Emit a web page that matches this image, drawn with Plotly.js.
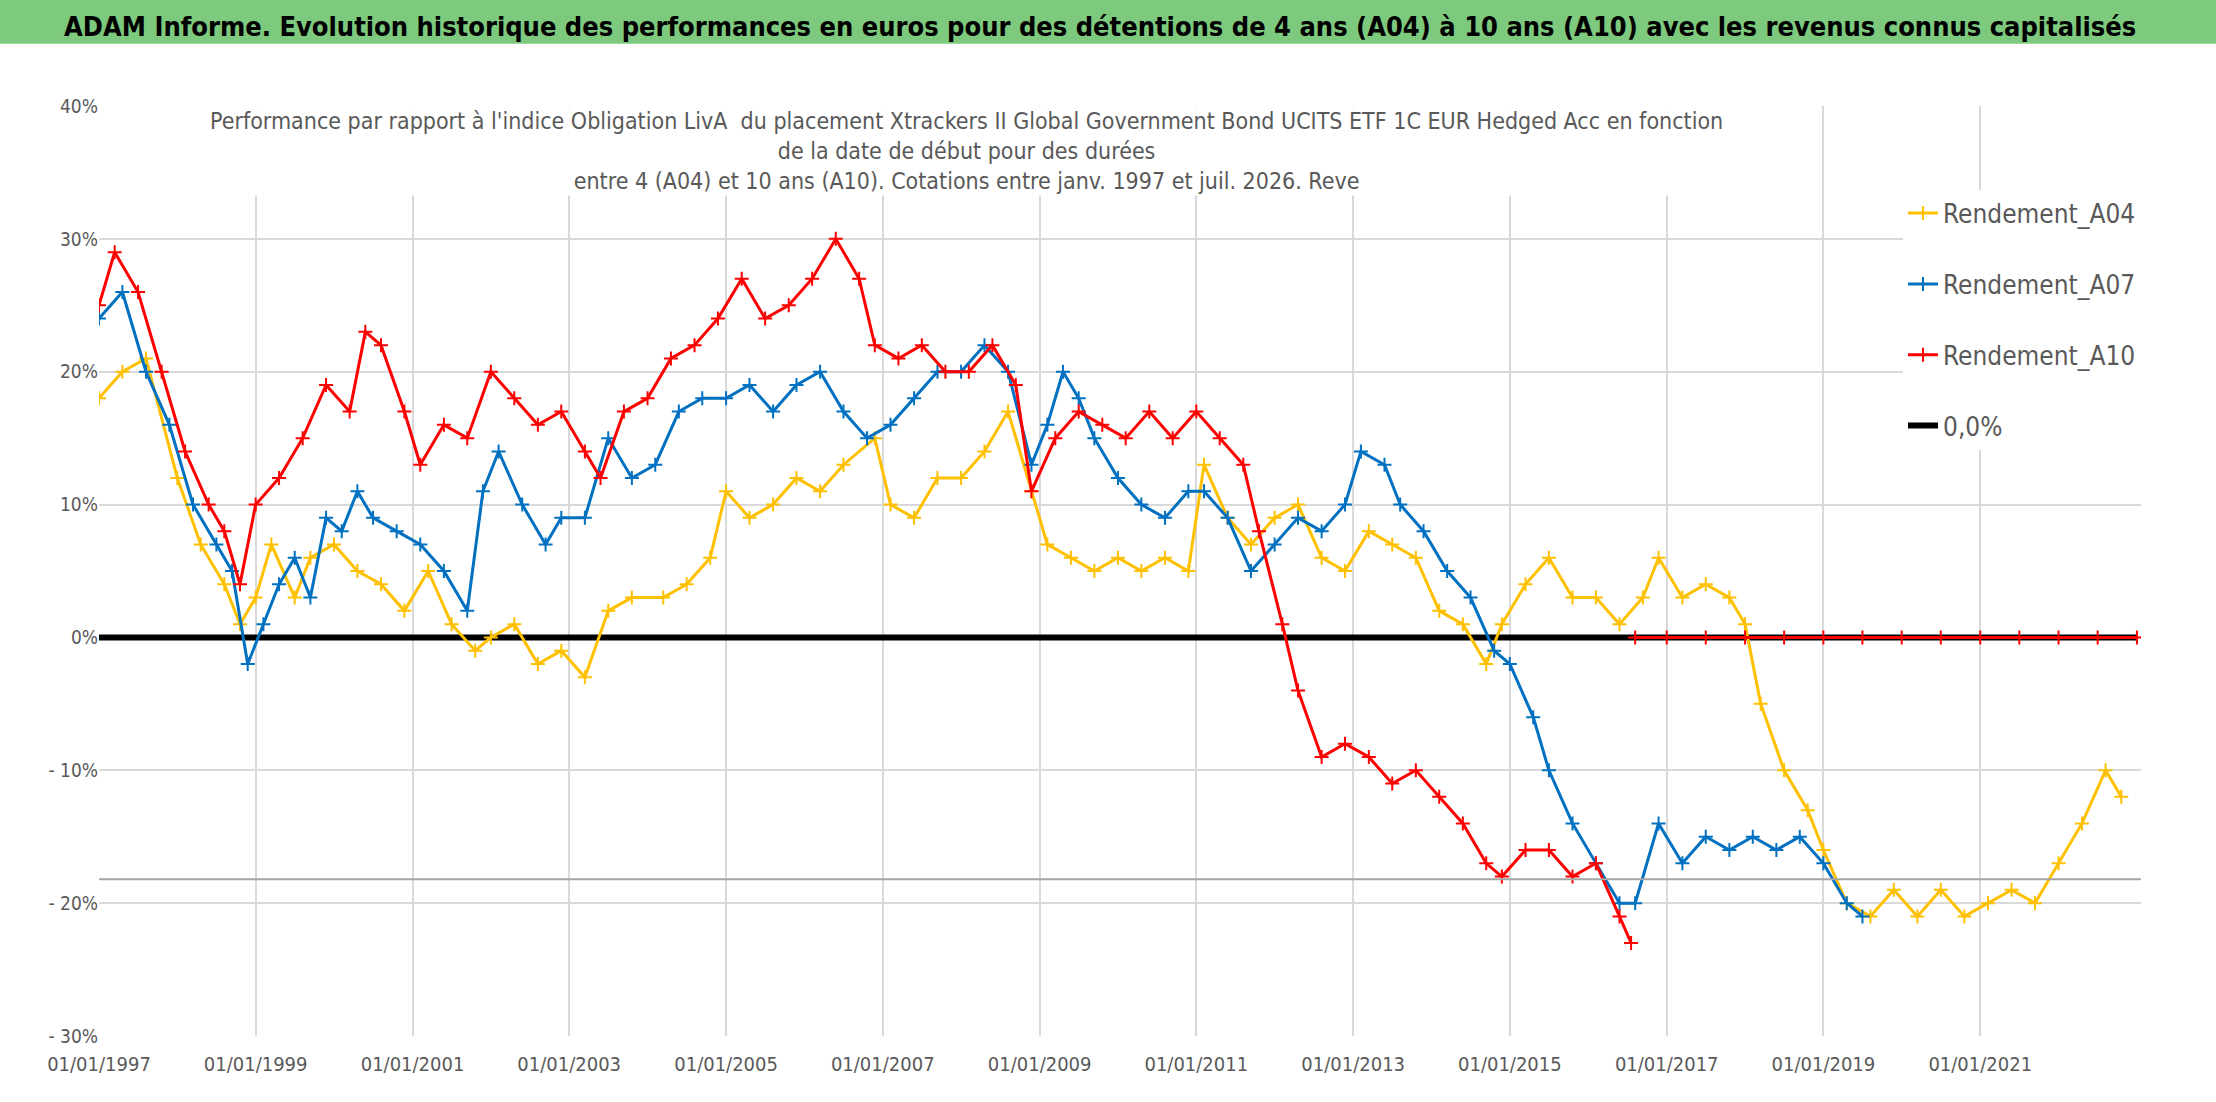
<!DOCTYPE html>
<html><head><meta charset="utf-8">
<script src="https://cdn.plot.ly/plotly-3.0.1.min.js"></script>
<style>body{margin:0;background:#fff}#chart{width:2216px;height:1102px}</style>
</head><body><div id="chart"></div>
<script>
// dates as decimal years, values in %
var a04Years = [1997.0,1997.3,1997.6,1998.0,1998.3,1998.6,1998.8,1999.0,1999.2,1999.5,1999.7,2000.0,2000.3,2000.6,2000.9,2001.2,2001.5,2001.8,2002.0,2002.3,2002.6,2002.9,2003.2,2003.5,2003.8,2004.2,2004.5,2004.8,2005.0,2005.3,2005.6,2005.9,2006.2,2006.5,2006.9,2007.1,2007.4,2007.7,2008.0,2008.3,2008.6,2008.9,2009.1,2009.4,2009.7,2010.0,2010.3,2010.6,2010.9,2011.1,2011.4,2011.7,2012.0,2012.3,2012.6,2012.9,2013.2,2013.5,2013.8,2014.1,2014.4,2014.7,2014.9,2015.2,2015.5,2015.8,2016.1,2016.4,2016.7,2016.9,2017.2,2017.5,2017.8,2018.0,2018.2,2018.5,2018.8,2019.0,2019.3,2019.6,2019.9,2020.2,2020.5,2020.8,2021.1,2021.4,2021.7,2022.0,2022.3,2022.6,2022.8];
var a04Vals = [18,20,21,12,7,4,1,3,7,3,6,7,5,4,2,5,1,-1,0,1,-2,-1,-3,2,3,3,4,6,11,9,10,12,11,13,15,10,9,12,12,14,17,11,7,6,5,6,5,6,5,13,9,7,9,10,6,5,8,7,6,2,1,-2,1,4,6,3,3,1,3,6,3,4,3,1,-5,-10,-13,-16,-20,-21,-19,-21,-19,-21,-20,-19,-20,-17,-14,-10,-12];

var a07Years = [1997.0,1997.3,1997.6,1997.9,1998.2,1998.5,1998.7,1998.9,1999.1,1999.3,1999.5,1999.7,1999.9,2000.1,2000.3,2000.5,2000.8,2001.1,2001.4,2001.7,2001.9,2002.1,2002.4,2002.7,2002.9,2003.2,2003.5,2003.8,2004.1,2004.4,2004.7,2005.0,2005.3,2005.6,2005.9,2006.2,2006.5,2006.8,2007.1,2007.4,2007.7,2008.0,2008.3,2008.6,2008.9,2009.1,2009.3,2009.5,2009.7,2010.0,2010.3,2010.6,2010.9,2011.1,2011.4,2011.7,2012.0,2012.3,2012.6,2012.9,2013.1,2013.4,2013.6,2013.9,2014.2,2014.5,2014.8,2015.0,2015.3,2015.5,2015.8,2016.1,2016.4,2016.6,2016.9,2017.2,2017.5,2017.8,2018.1,2018.4,2018.7,2019.0,2019.3,2019.5];
var a07Vals = [24,26,20,16,10,7,5,-2,1,4,6,3,9,8,11,9,8,7,5,2,11,14,10,7,9,9,15,12,13,17,18,18,19,17,19,20,17,15,16,18,20,20,22,20,13,16,20,18,15,12,10,9,11,11,9,5,7,9,8,10,14,13,10,8,5,3,-1,-2,-6,-10,-14,-17,-20,-20,-14,-17,-15,-16,-15,-16,-15,-17,-20,-21];

var a10Years = [1997.0,1997.2,1997.5,1997.8,1998.1,1998.4,1998.6,1998.8,1999.0,1999.3,1999.6,1999.9,2000.2,2000.4,2000.6,2000.9,2001.1,2001.4,2001.7,2002.0,2002.3,2002.6,2002.9,2003.2,2003.4,2003.7,2004.0,2004.3,2004.6,2004.9,2005.2,2005.5,2005.8,2006.1,2006.4,2006.7,2006.9,2007.2,2007.5,2007.8,2008.1,2008.4,2008.7,2008.9,2009.2,2009.5,2009.8,2010.1,2010.4,2010.7,2011.0,2011.3,2011.6,2011.8,2012.1,2012.3,2012.6,2012.9,2013.2,2013.5,2013.8,2014.1,2014.4,2014.7,2014.9,2015.2,2015.5,2015.8,2016.1,2016.4,2016.55];
var a10Vals = [25,29,26,20,14,10,8,4,10,12,15,19,17,23,22,17,13,16,15,20,18,16,17,14,12,17,18,21,22,24,27,24,25,27,30,27,22,21,22,20,20,22,19,11,15,17,16,15,17,15,17,15,13,8,1,-4,-9,-8,-9,-11,-10,-12,-14,-17,-18,-16,-16,-18,-17,-21,-23];
// A10 values are 0 once the 10-year window runs past the last quote
var a10TailYears = [2016.6,2017.0,2017.5,2018.0,2018.5,2019.0,2019.5,2020.0,2020.5,2021.0,2021.5,2022.0,2022.5,2023.0];
var a10TailVals = [0,0,0,0,0,0,0,0,0,0,0,0,0,0];

var zeroYears = [1997.0, 2023.0];
var zeroVals = [0, 0];

var yTicks = [-30,-20,-10,0,10,20,30,40];
var yTickText = ['- 30%','- 20%','- 10%','0%','10%','20%','30%','40%'];
var xTicks = ['1997-01-01','1999-01-01','2001-01-01','2003-01-01','2005-01-01','2007-01-01','2009-01-01','2011-01-01','2013-01-01','2015-01-01','2017-01-01','2019-01-01','2021-01-01'];

function toDate(y) {
  var yr = Math.floor(y);
  var ms = Date.UTC(yr,0,1) + (y - yr) * 365.25 * 86400000;
  return new Date(ms).toISOString().slice(0,10);
}

var font = 'DejaVu Sans Condensed, Liberation Sans Narrow, Roboto, sans-serif';

function pts(name, years, vals, color, rank, show) {
  return {
    x: years.map(toDate), y: vals, name: name, type: 'scatter', mode: 'lines+markers',
    legendgroup: name, legendrank: rank, showlegend: show,
    line: {color: color, width: 3},
    marker: {symbol: 'cross-thin-open', size: 10, line: {color: color, width: 2}, color: color}
  };
}

var data = [
  {x: zeroYears.map(toDate), y: zeroVals, name: '0,0%', type: 'scatter', mode: 'lines',
   legendgroup: 'z', legendrank: 4, line: {color: '#000', width: 6}},
  pts('Rendement_A04', a04Years, a04Vals, '#FFC000', 1, true),
  pts('Rendement_A07', a07Years, a07Vals, '#0070C0', 2, true),
  pts('Rendement_A10', a10Years, a10Vals, '#FF0000', 3, true),
  pts('Rendement_A10', a10TailYears, a10TailVals, '#FF0000', 3, false)
];

var layout = {
  width: 2216, height: 1102,
  margin: {l: 99, r: 75, t: 106, b: 66},
  paper_bgcolor: '#fff', plot_bgcolor: '#fff',
  font: {family: font, color: '#595959', size: 20},
  showlegend: true,
  legend: {x: 1.0, xanchor: 'right', y: 0.91, yanchor: 'top', bgcolor: '#fff',
    font: {size: 26, color: '#595959', family: font}, tracegroupgap: 34, traceorder: 'grouped',
    itemwidth: 30},
  xaxis: {type: 'date', range: ['1997-01-01','2023-01-20'], tickvals: xTicks,
    tickformat: '%d/%m/%Y', showgrid: true, gridcolor: '#d9d9d9', gridwidth: 2,
    showline: false, zeroline: false, ticks: '', tickfont: {size: 20}, ticklabelstandoff: 14},
  yaxis: {range: [-30, 40], tickvals: yTicks, ticktext: yTickText, showgrid: true,
    gridcolor: '#d9d9d9', gridwidth: 2, zeroline: false, ticks: '', tickfont: {size: 19}},
  shapes: [
    {type: 'rect', xref: 'paper', yref: 'paper', x0: -0.05, x1: 1.04, y0: 1.067, y1: 1.115,
     fillcolor: '#7DC97D', line: {width: 0}, layer: 'below'},
    {type: 'line', xref: 'paper', yref: 'y', x0: 0, x1: 1, y0: -18.2, y1: -18.2,
     line: {color: '#a6a6a6', width: 2}}
  ],
  annotations: [
    {xref: 'paper', yref: 'paper', x: 0.49, y: 1.085, xanchor: 'center', yanchor: 'middle', showarrow: false,
     text: '<b>ADAM Informe. Evolution historique des performances en euros pour des détentions de 4 ans (A04) à 10 ans (A10) avec les revenus connus capitalisés</b>',
     font: {size: 27, color: '#000', family: font}},
    {xref: 'paper', yref: 'paper', x: 0.425, y: 1.0, xanchor: 'center', yanchor: 'top', showarrow: false,
     bgcolor: '#fff',
     text: "Performance par rapport à l'indice Obligation LivA  du placement Xtrackers II Global Government Bond UCITS ETF 1C EUR Hedged Acc en fonction<br>de la date de début pour des durées<br>entre 4 (A04) et 10 ans (A10). Cotations entre janv. 1997 et juil. 2026. Reve",
     font: {size: 23, color: '#595959', family: font}}
  ]
};

Plotly.newPlot('chart', data, layout, {displayModeBar: false});
</script></body></html>
